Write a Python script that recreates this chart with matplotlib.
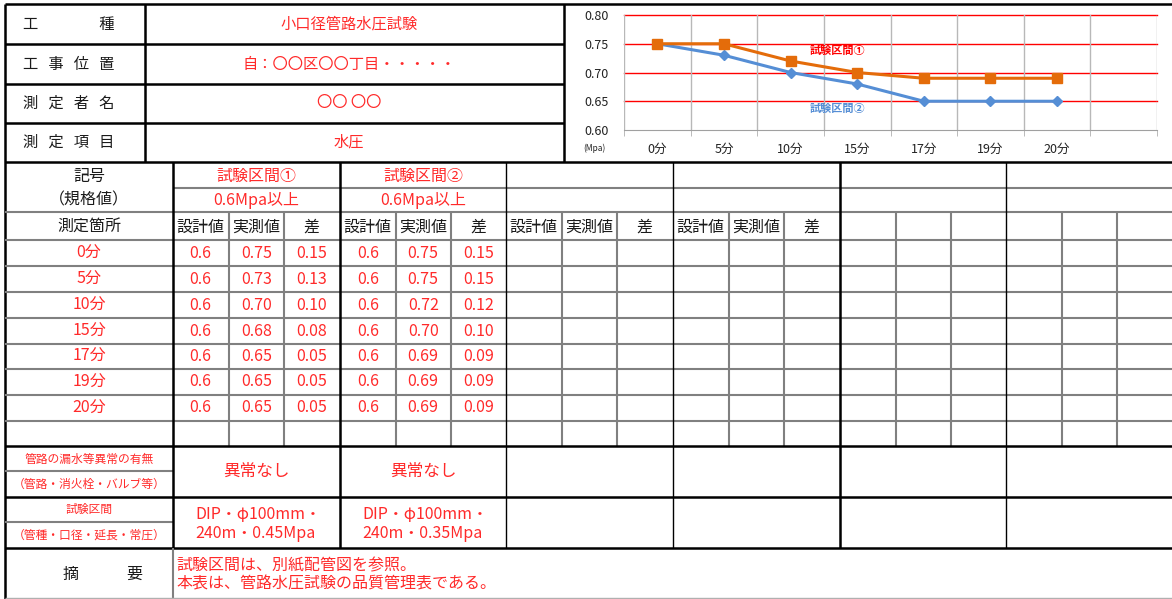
"""plot.py: 管路水圧試験 品質管理表 (table + chart)"""

import numpy as np
from matplotlib import pyplot as plt

plt.rcParams['font.family'] = ['Noto Sans CJK JP', 'DejaVu Sans']

# ---- data ----
times = ['0分', '5分', '10分', '15分', '17分', '19分', '20分']

sec1_design = [0.6, 0.6, 0.6, 0.6, 0.6, 0.6, 0.6]
sec1_actual = [0.75, 0.73, 0.70, 0.68, 0.65, 0.65, 0.65]
sec1_diff = [0.15, 0.13, 0.10, 0.08, 0.05, 0.05, 0.05]

sec2_design = [0.6, 0.6, 0.6, 0.6, 0.6, 0.6, 0.6]
sec2_actual = [0.75, 0.75, 0.72, 0.70, 0.69, 0.69, 0.69]
sec2_diff = [0.15, 0.15, 0.12, 0.10, 0.09, 0.09, 0.09]

# values as plotted in the chart
chart_sec1 = [0.75, 0.75, 0.72, 0.70, 0.69, 0.69, 0.69]
chart_sec2 = [0.75, 0.73, 0.70, 0.68, 0.65, 0.65, 0.65]

head_labels = ['工　　　　種', '工   事   位   置', '測   定   者   名', '測   定   項   目']
head_values = ['小口径管路水圧試験', '自：〇〇区〇〇丁目・・・・・', '〇〇 〇〇', '水圧']
sections = ['試験区間①', '試験区間②']
spec = ['0.6Mpa以上', '0.6Mpa以上']
sub_heads = ['設計値', '実測値', '差']
leak = ['異常なし', '異常なし']
ranges = [('DIP・φ100mm・', '240m・0.45Mpa'), ('DIP・φ100mm・', '240m・0.35Mpa')]
remarks = ['試験区間は、別紙配管図を参照。', '本表は、管路水圧試験の品質管理表である。']

RED = '#ff2a2a'
INK = '#1a1a1a'
ORANGE = '#e46c0a'
BLUE = '#558ed5'

STY = {
    'K': dict(color='black', lw=1.8),
    'k': dict(color='black', lw=1.0),
    'g': dict(color='#808080', lw=1.5),
    'l': dict(color='#b0b0b0', lw=1.0),
}


def main():
    fig = plt.figure(figsize=(11.72, 5.99), dpi=100)
    ax = fig.add_axes([0, 0, 1, 1])
    ax.set_xlim(0, 1172)
    ax.set_ylim(599, 0)
    ax.axis('off')

    def hl(y, x0, x1, st):
        ax.plot([x0, x1], [y, y], solid_capstyle='butt', **STY[st])

    def vl(x, y0, y1, st):
        ax.plot([x, x], [y0, y1], solid_capstyle='butt', **STY[st])

    def txt(x, y, s, color=INK, size=11.5, ha='center'):
        ax.text(x, y, s, color=color, fontsize=size, ha=ha, va='center')

    # ---- top block ----
    hl(4, 5, 1172, 'K')
    for y in [44, 84, 123]:
        hl(y, 5, 564, 'K')
    vl(145, 4, 162, 'K')
    vl(564, 4, 162, 'K')
    hl(162, 5, 1172, 'K')
    vl(5, 4, 599, 'K')
    head_y = [24, 64, 103, 142]
    for y, lab, val in zip(head_y, head_labels, head_values):
        txt(23, y, lab, ha='left', size=11)
        txt(349, y, val, color=RED, size=11)

    # ---- lower table grid ----
    groups = [173, 340, 506, 673, 840, 1006]
    gstyle = ['K', 'K', 'k', 'k', 'K', 'k']
    gw = 166.5
    row_edges = [240, 266, 292, 318, 344, 369, 395, 421, 446]

    for gx in groups:
        for k in (1, 2):
            vl(gx + k * gw / 3, 212, 446, 'g')
    hl(188, 173, 1172, 'g')
    hl(212, 5, 1172, 'g')
    for y in row_edges[:-1]:
        hl(y, 5, 1172, 'g')
    hl(471, 5, 173, 'g')
    hl(522, 5, 173, 'g')
    for y in [446, 497, 548]:
        hl(y, 5, 1172, 'K')
    for gx, st in zip(groups, gstyle):
        vl(gx, 162, 548, st)
    vl(173, 548, 599, 'g')
    hl(598, 5, 1172, 'l')

    # left column labels
    txt(89, 176, '記号')
    txt(89, 200, '（規格値）')
    txt(89, 227, '測定箇所')
    centers = [(a + b) / 2 for a, b in zip(row_edges[:-1], row_edges[1:])]
    for y, t in zip(centers, times):
        txt(89, y, t, color=RED)
    txt(89, 459, '管路の漏水等異常の有無', color=RED, size=8.5)
    txt(89, 484, '（管路・消火栓・バルブ等）', color=RED, size=8.5)
    txt(89, 509, '試験区間', color=RED, size=8.5)
    txt(89, 535, '（管種・口径・延長・常圧）', color=RED, size=8.5)
    txt(63, 574, '摘　　　要', ha='left')

    # sub headers
    for gx in groups[:4]:
        for k, s in enumerate(sub_heads):
            txt(gx + (k + 0.5) * gw / 3, 227, s)

    # section data
    data = [(sec1_design, sec1_actual, sec1_diff), (sec2_design, sec2_actual, sec2_diff)]
    for gx, name, sp, cols, lk, rg in zip(groups, sections, spec, data, leak, ranges):
        txt(gx + gw / 2, 176, name, color=RED)
        txt(gx + gw / 2, 200, sp, color=RED)
        for k, col in enumerate(cols):
            fmt = '{:.1f}' if k == 0 else '{:.2f}'
            for y, v in zip(centers, col):
                txt(gx + (k + 0.5) * gw / 3, y, fmt.format(v), color=RED)
        txt(gx + gw / 2, 471, lk, color=RED, size=12)
        txt(gx + 22, 514, rg[0], color=RED, ha='left')
        txt(gx + 22, 533, rg[1], color=RED, ha='left')

    txt(176, 566, remarks[0], color=RED, ha='left', size=11.5)
    txt(176, 584, remarks[1], color=RED, ha='left', size=11.5)

    # ---- chart ----
    cax = fig.add_axes([624 / 1172, 1 - 130 / 599, (1157 - 624) / 1172, 115 / 599])
    cax.patch.set_alpha(0)
    x = np.arange(len(times))
    cax.plot(x, chart_sec2, color=BLUE, lw=2.2, marker='D', ms=5, zorder=3)
    cax.plot(x, chart_sec1, color=ORANGE, lw=2.2, marker='s', ms=7, zorder=4)
    cax.set_xlim(-0.5, 7.5)
    cax.set_ylim(0.6, 0.8)
    cax.set_yticks([0.60, 0.65, 0.70, 0.75, 0.80])
    cax.set_yticklabels(['0.60', '0.65', '0.70', '0.75', '0.80'])
    cax.set_xticks(x)
    cax.set_xticklabels(times)
    cax.set_xticks(np.arange(-0.5, 8.0, 1.0), minor=True)
    cax.tick_params(axis='both', which='major', length=0, labelsize=9, colors='#222222')
    cax.tick_params(axis='y', pad=11)
    cax.tick_params(axis='x', pad=9)
    cax.tick_params(axis='x', which='minor', length=4, color='#b0b0b0')
    for yv in [0.65, 0.70, 0.75, 0.80]:
        cax.axhline(yv, color='red', lw=1.0, zorder=1, clip_on=False)
    cax.grid(True, axis='x', which='minor', color='#b8b8b8', lw=1.0, zorder=0)
    for side in ['left', 'top', 'right']:
        cax.spines[side].set_visible(False)
    cax.spines['bottom'].set_color('#a0a0a0')
    cax.text(2.71, 0.739, sections[0], color='red', fontsize=8, weight='bold', ha='center', va='center')
    cax.text(2.71, 0.638, sections[1], color=BLUE, fontsize=8, weight='bold', ha='center', va='center')
    ax.text(594, 148, '(Mpa)', fontsize=6, ha='center', va='center', color='#222222')

    fig.savefig('out.png', dpi=100)


if __name__ == '__main__':
    main()
